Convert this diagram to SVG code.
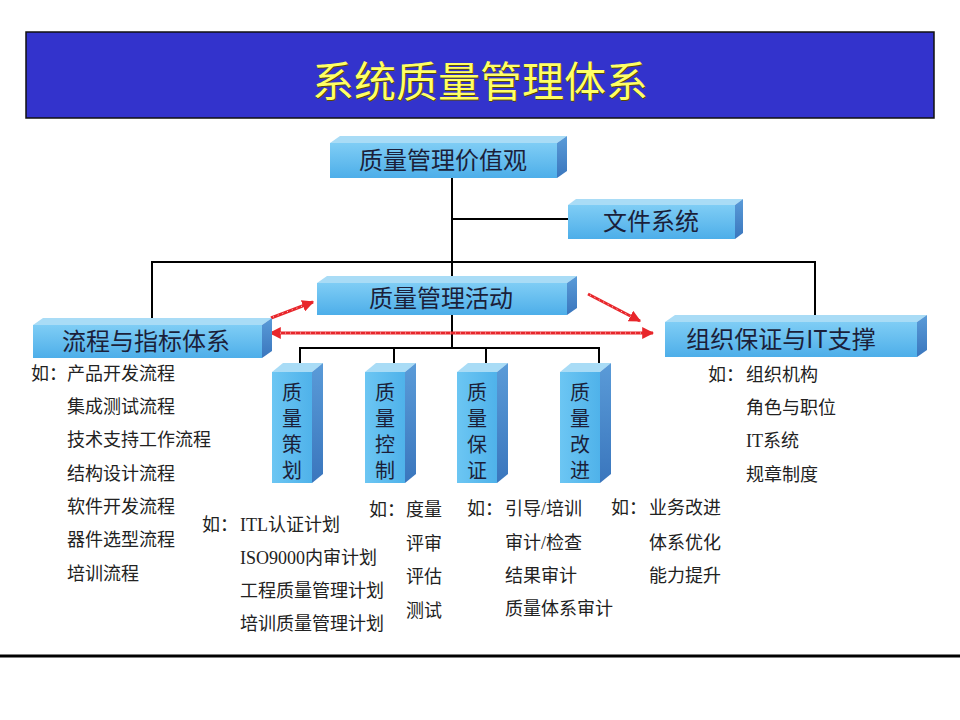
<svg xmlns="http://www.w3.org/2000/svg" width="960" height="720" viewBox="0 0 960 720">
<defs>
<linearGradient id="gFront" x1="0" y1="0" x2="0" y2="1">
<stop offset="0" stop-color="#7fcdf5"/><stop offset="1" stop-color="#4daee9"/>
</linearGradient>
<linearGradient id="gFrontV" x1="0" y1="0" x2="1" y2="0">
<stop offset="0" stop-color="#6cc6f3"/><stop offset="1" stop-color="#4fb2ea"/>
</linearGradient>
<linearGradient id="gSide" x1="0" y1="0" x2="0" y2="1">
<stop offset="0" stop-color="#5a9bd8"/><stop offset="1" stop-color="#3a76bd"/>
</linearGradient>
<marker id="ah" viewBox="0 0 10 10" refX="9" refY="5" markerWidth="4" markerHeight="4" orient="auto-start-reverse" markerUnits="strokeWidth">
<path d="M0,0 L10,5 L0,10 z" fill="#e8262b"/>
</marker>
<style>
.front{fill:url(#gFront);}
.frontv{fill:url(#gFrontV);}
.top{fill:#a9dcf6;}
.side{fill:url(#gSide);}
.lbl{font-family:"Noto Sans CJK SC","Noto Sans",sans-serif;font-size:24px;fill:#1b1f3a;text-anchor:middle;}
.vl{font-family:"Noto Sans CJK SC","Noto Sans",sans-serif;font-size:20px;fill:#1b1f3a;writing-mode:vertical-rl;letter-spacing:6px;}
.t{font-family:"Liberation Serif","Noto Sans CJK SC",serif;font-size:18px;fill:#222;}
.ln{stroke:#000;stroke-width:2;fill:none;}
.red{stroke:#e8262b;stroke-width:3;fill:none;}
.dots{stroke:#fff;stroke-width:1;stroke-dasharray:1 4;fill:none;opacity:0.8;}
</style>
</defs>
<rect width="960" height="720" fill="#fff"/>

<g id="title">
<rect x="26" y="32" width="908" height="86" fill="#3333cc" stroke="#111" stroke-width="1.5"/>
<text x="481" y="98" font-family="Noto Sans CJK SC,sans-serif" font-size="42" fill="#5a4a00" text-anchor="middle">系统质量管理体系</text>
<text x="480" y="97" font-family="Noto Sans CJK SC,sans-serif" font-size="42" fill="#ffff66" text-anchor="middle">系统质量管理体系</text>
</g>

<g id="connectors">
<line class="ln" x1="452" y1="178" x2="452" y2="283"/>
<line class="ln" x1="452" y1="219" x2="568" y2="219"/>
<line class="ln" x1="152" y1="262" x2="815" y2="262"/>
<line class="ln" x1="152" y1="261" x2="152" y2="321"/>
<line class="ln" x1="815" y1="261" x2="815" y2="318"/>
<line class="ln" x1="452" y1="315" x2="452" y2="348"/>
<line class="ln" x1="300" y1="348" x2="600" y2="348"/>
<line class="ln" x1="300" y1="347" x2="300" y2="367"/>
<line class="ln" x1="394" y1="347" x2="394" y2="367"/>
<line class="ln" x1="486" y1="347" x2="486" y2="367"/>
<line class="ln" x1="599" y1="347" x2="599" y2="367"/>
<line class="red" x1="270" y1="333" x2="653" y2="333" marker-start="url(#ah)" marker-end="url(#ah)"/>
<line class="dots" x1="280" y1="333" x2="643" y2="333"/>
<line class="red" x1="271" y1="318" x2="313" y2="302" marker-end="url(#ah)"/>
<line class="dots" x1="273" y1="317" x2="305" y2="305"/>
<line class="red" x1="588" y1="294" x2="640" y2="321" marker-end="url(#ah)"/>
<line class="dots" x1="590" y1="295" x2="632" y2="317"/>
</g>

<g id="n-value">
<polygon class="top" points="330,143 340,136 567,136 557,143"/>
<polygon class="side" points="557,143 567,136 567,171 557,178"/>
<rect class="front" x="330" y="143" width="227" height="35"/>
<text class="lbl" x="443" y="169">质量管理价值观</text>
</g>

<g id="n-file">
<polygon class="top" points="568,205 576,199 743,199 735,205"/>
<polygon class="side" points="735,205 743,199 743,233 735,239"/>
<rect class="front" x="568" y="205" width="167" height="34"/>
<text class="lbl" x="651" y="230">文件系统</text>
</g>

<g id="n-activity">
<polygon class="top" points="317,283 327,276 577,276 567,283"/>
<polygon class="side" points="567,283 577,276 577,308 567,315"/>
<rect class="front" x="317" y="283" width="250" height="32"/>
<text class="lbl" x="441" y="307">质量管理活动</text>
</g>

<g id="n-process">
<polygon class="top" points="33,325 43,318 272,318 262,325"/>
<polygon class="side" points="262,325 272,318 272,351 262,358"/>
<rect class="front" x="33" y="325" width="229" height="33"/>
<text class="lbl" x="146" y="350">流程与指标体系</text>
</g>

<g id="n-org">
<polygon class="top" points="665,322 675,315 927,315 917,322"/>
<polygon class="side" points="917,322 927,315 927,350 917,357"/>
<rect class="front" x="665" y="322" width="252" height="35"/>
<text class="lbl" x="781" y="348">组织保证与IT支撑</text>
</g>

<g id="n-plan">
<polygon class="top" points="272,372 283,363 323,363 312,372"/>
<polygon class="side" points="312,372 323,363 323,474 312,483"/>
<rect class="frontv" x="272" y="372" width="40" height="111"/>
<text class="vl" x="292" y="382">质量策划</text>
</g>

<g id="n-control">
<polygon class="top" points="365,372 376,363 416,363 405,372"/>
<polygon class="side" points="405,372 416,363 416,474 405,483"/>
<rect class="frontv" x="365" y="372" width="40" height="111"/>
<text class="vl" x="385" y="382">质量控制</text>
</g>

<g id="n-assure">
<polygon class="top" points="457,372 468,363 508,363 497,372"/>
<polygon class="side" points="497,372 508,363 508,474 497,483"/>
<rect class="frontv" x="457" y="372" width="40" height="111"/>
<text class="vl" x="477" y="382">质量保证</text>
</g>

<g id="n-improve">
<polygon class="top" points="560,372 571,363 611,363 600,372"/>
<polygon class="side" points="600,372 611,363 611,474 600,483"/>
<rect class="frontv" x="560" y="372" width="40" height="111"/>
<text class="vl" x="580" y="382">质量改进</text>
</g>

<g id="list-process">
<text class="t" x="31" y="380">如：</text>
<text class="t" x="67" y="380">产品开发流程</text>
<text class="t" x="67" y="413">集成测试流程</text>
<text class="t" x="67" y="446">技术支持工作流程</text>
<text class="t" x="67" y="480">结构设计流程</text>
<text class="t" x="67" y="513">软件开发流程</text>
<text class="t" x="67" y="546">器件选型流程</text>
<text class="t" x="67" y="580">培训流程</text>
</g>

<g id="list-plan">
<text class="t" x="202" y="531">如：</text>
<text class="t" x="240" y="531">ITL认证计划</text>
<text class="t" x="240" y="564">ISO9000内审计划</text>
<text class="t" x="240" y="597">工程质量管理计划</text>
<text class="t" x="240" y="630">培训质量管理计划</text>
</g>

<g id="list-control">
<text class="t" x="369" y="516">如：</text>
<text class="t" x="406" y="516">度量</text>
<text class="t" x="406" y="550">评审</text>
<text class="t" x="406" y="583">评估</text>
<text class="t" x="406" y="617">测试</text>
</g>

<g id="list-assure">
<text class="t" x="467" y="515">如：</text>
<text class="t" x="505" y="515">引导/培训</text>
<text class="t" x="505" y="549">审计/检查</text>
<text class="t" x="505" y="582">结果审计</text>
<text class="t" x="505" y="615">质量体系审计</text>
</g>

<g id="list-improve">
<text class="t" x="611" y="514">如：</text>
<text class="t" x="649" y="514">业务改进</text>
<text class="t" x="649" y="549">体系优化</text>
<text class="t" x="649" y="582">能力提升</text>
</g>

<g id="list-org">
<text class="t" x="708" y="381">如：</text>
<text class="t" x="746" y="381">组织机构</text>
<text class="t" x="746" y="414">角色与职位</text>
<text class="t" x="746" y="447">IT系统</text>
<text class="t" x="746" y="481">规章制度</text>
</g>

<line x1="0" y1="656" x2="960" y2="656" stroke="#000" stroke-width="3"/>
</svg>
